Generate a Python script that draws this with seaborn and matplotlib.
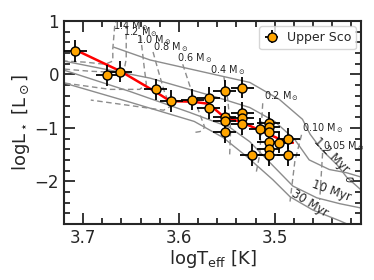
import numpy as np
import matplotlib
matplotlib.use("Agg")
import matplotlib.pyplot as plt
import seaborn as sns
from matplotlib.ticker import MultipleLocator

# ---------------- data ----------------
# Upper Sco members
teff = [3.708, 3.675, 3.661, 3.624, 3.608, 3.586, 3.569, 3.569, 3.552, 3.534,
        3.552, 3.552, 3.534, 3.534, 3.534, 3.515, 3.506, 3.506, 3.506, 3.552,
        3.486, 3.506, 3.496, 3.506, 3.524, 3.506, 3.486]
lum = [0.44, -0.02, 0.05, -0.28, -0.50, -0.47, -0.44, -0.63, -0.31, -0.25,
       -0.80, -0.87, -0.72, -0.82, -0.93, -1.02, -0.90, -0.99, -1.07, -1.08,
       -1.20, -1.27, -1.28, -1.39, -1.51, -1.51, -1.51]
teff_err = [0.012] * len(teff)
lum_err = [0.2] * len(lum)

# running relation (red)
red_t = [3.708, 3.661, 3.624, 3.609, 3.586, 3.569, 3.554, 3.534, 3.516, 3.495, 3.481]
red_l = [0.46, 0.06, -0.33, -0.50, -0.51, -0.55, -0.78, -0.90, -1.04, -1.21, -1.28]

# isochrones
iso_1_t = [3.668, 3.630, 3.578, 3.526, 3.495, 3.471, 3.463, 3.451, 3.435, 3.425, 3.410]
iso_1_l = [0.51, 0.27, 0.06, -0.15, -0.47, -0.84, -1.12, -1.41, -1.69, -1.92, -2.16]
iso_2_t = [3.720, 3.630, 3.560, 3.526, 3.500, 3.479, 3.464, 3.443, 3.425, 3.410]
iso_2_l = [0.25, -0.07, -0.43, -0.62, -0.88, -1.22, -1.60, -1.78, -1.84, -1.92]
iso_10_t = [3.720, 3.651, 3.589, 3.547, 3.526, 3.505, 3.481, 3.456, 3.432, 3.410]
iso_10_l = [0.08, -0.32, -0.71, -0.99, -1.26, -1.65, -2.09, -2.31, -2.42, -2.50]
iso_30_t = [3.720, 3.651, 3.584, 3.554, 3.529, 3.502, 3.484, 3.460, 3.432, 3.422]
iso_30_l = [-0.16, -0.52, -0.88, -1.18, -1.54, -1.97, -2.29, -2.54, -2.74, -2.82]
iso_labels = ["1.2 Myr", "10 Myr", "30 Myr"]
iso_label_t = [3.441, 3.441, 3.4635]
iso_label_l = [-1.52, -2.18, -2.42]
iso_label_rot = [-45, -20, -32]

# mass tracks
trk_14_t = [3.667, 3.669, 3.669, 3.677, 3.698, 3.720]
trk_14_l = [0.91, 0.48, 0.25, 0.19, 0.23, 0.25]
trk_12_t = [3.655, 3.655, 3.657, 3.667, 3.693, 3.720]
trk_12_l = [0.76, 0.29, 0.10, 0.04, 0.06, 0.10]
trk_10_t = [3.640, 3.636, 3.634, 3.641, 3.672, 3.720]
trk_10_l = [0.72, 0.10, -0.18, -0.28, -0.28, -0.16]
trk_08_t = [3.627, 3.620, 3.615, 3.609, 3.616, 3.636, 3.692]
trk_08_l = [0.42, -0.03, -0.33, -0.60, -0.67, -0.62, -0.48]
trk_06_t = [3.596, 3.585, 3.578, 3.573, 3.578, 3.585]
trk_06_l = [0.19, -0.41, -0.75, -0.99, -1.07, -1.09]
trk_04_t = [3.553, 3.549, 3.546, 3.547]
trk_04_l = [-0.05, -0.47, -1.03, -1.50]
trk_02_t = [3.5125, 3.5135, 3.5156, 3.5198]
trk_02_l = [-0.54, -0.84, -1.50, -1.88]
trk_010_t = [3.472, 3.479, 3.484]
trk_010_l = [-1.13, -1.63, -2.38]
trk_005_t = [3.450, 3.453]
trk_005_l = [-1.47, -2.35]
trk_002_t = [3.419, 3.419]
trk_002_l = [-1.92, -2.05]
mass_labels = [r"1.4 M$_\odot$", r"1.2 M$_\odot$", r"1.0 M$_\odot$", r"0.8 M$_\odot$",
               r"0.6 M$_\odot$", r"0.4 M$_\odot$", r"0.2 M$_\odot$", r"0.10 M$_\odot$",
               r"0.05 M$_\odot$"]
mass_label_t = [3.6687, 3.6584, 3.6451, 3.627, 3.6025, 3.5677, 3.511, 3.4711, 3.4495]
mass_label_l = [0.91, 0.79, 0.65, 0.51, 0.30, 0.09, -0.40, -1.00, -1.35]

# ---------------- plot ----------------
sns.set_style("ticks")
plt.rcParams["font.family"] = ["DejaVu Sans"]
plt.rcParams["mathtext.fontset"] = "dejavusans"

fig = plt.figure(figsize=(3.74, 2.8), dpi=100)
ax = fig.add_axes([0.171, 0.20, 0.794, 0.725])

gray = "#8c8c8c"
for t, l in [(iso_1_t, iso_1_l), (iso_2_t, iso_2_l), (iso_10_t, iso_10_l), (iso_30_t, iso_30_l)]:
    sns.lineplot(x=t, y=l, sort=False, estimator=None, ax=ax, color=gray, lw=1.0, zorder=1)

for t, l in [(trk_14_t, trk_14_l), (trk_12_t, trk_12_l), (trk_10_t, trk_10_l),
             (trk_08_t, trk_08_l), (trk_06_t, trk_06_l), (trk_04_t, trk_04_l),
             (trk_02_t, trk_02_l), (trk_010_t, trk_010_l), (trk_005_t, trk_005_l),
             (trk_002_t, trk_002_l)]:
    sns.lineplot(x=t, y=l, sort=False, estimator=None, ax=ax, color=gray, lw=1.0,
                 linestyle=(0, (4, 2.5)), zorder=1)

for s, t, l in zip(mass_labels, mass_label_t, mass_label_l):
    ax.text(t, l, s, fontsize=7, ha="left", va="center", zorder=2)
ax.text(3.4195, -1.95, "0", fontsize=7, rotation=90, ha="center", va="center", zorder=2)

for s, t, l, r in zip(iso_labels, iso_label_t, iso_label_l, iso_label_rot):
    ax.text(t, l, s, fontsize=8.5, rotation=r, ha="center", va="center", zorder=2)

sns.lineplot(x=red_t, y=red_l, sort=False, estimator=None, ax=ax, color="red", lw=1.8, zorder=3)

ax.errorbar(teff, lum, xerr=teff_err, yerr=lum_err, fmt="o", ms=6.5, mfc="orange",
            mec="black", mew=1.0, ecolor="black", elinewidth=1.3, capsize=0,
            zorder=4, label="Upper Sco")

ax.set_xlim(3.72, 3.41)
ax.set_ylim(-2.8, 1.0)
ax.xaxis.set_major_locator(MultipleLocator(0.1))
ax.xaxis.set_minor_locator(MultipleLocator(0.02))
ax.yaxis.set_major_locator(MultipleLocator(1))
ax.yaxis.set_minor_locator(MultipleLocator(0.2))
ax.tick_params(which="both", direction="in", top=True, right=True, labelsize=12, width=1.3)
ax.tick_params(which="major", length=8)
ax.tick_params(which="minor", length=4.5)
for sp in ax.spines.values():
    sp.set_linewidth(1.5)

ax.set_xlabel(r"logT$_{\rm eff}$ [K]", fontsize=13, labelpad=1)
ax.set_ylabel(r"logL$_\star$ [L$_\odot$]", fontsize=13, labelpad=2)

ax.legend(loc="upper right", fontsize=9, handlelength=1.2, handletextpad=0.6,
          borderaxespad=0.4, frameon=True, fancybox=True, edgecolor="#cccccc")

fig.savefig("out.png", dpi=100)
